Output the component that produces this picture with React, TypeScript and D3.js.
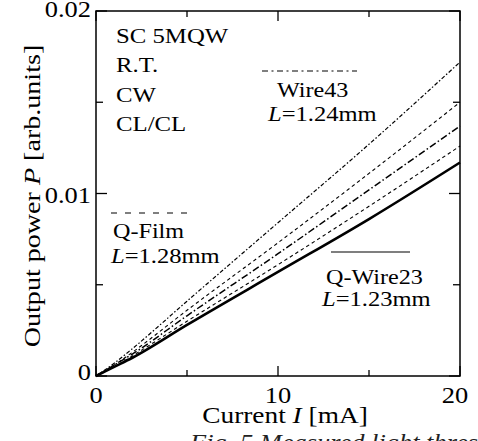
import React, { useEffect, useRef } from "react";
import * as d3 from "d3";

// current (mA) sample points
const currents = [0, 1, 2, 5, 10, 15, 20];

// output power for each curve
const wire43Fine = [0, 0.0007, 0.0015, 0.0041, 0.0084, 0.0127, 0.0172];
const filmUpper = [0, 0.0006, 0.0013, 0.0036, 0.0073, 0.0111, 0.015];
const wire43Long = [0, 0.0006, 0.0012, 0.0033, 0.0067, 0.0102, 0.0137];
const filmLower = [0, 0.0005, 0.0011, 0.003, 0.0061, 0.0093, 0.0126];
const qWire23 = [0, 0.0005, 0.001, 0.0028, 0.0057, 0.0086, 0.0117];

const xMajor = [0, 10, 20];
const xMinor = [5, 15];
const yMajor = [0, 0.01, 0.02];
const yMinor = [0.005, 0.015];

const notes = ["SC 5MQW", "R.T.", "CW", "CL/CL"];

const FONT = "'Liberation Serif', 'Times New Roman', serif";

function App() {
  const svgRef = useRef<SVGSVGElement>(null);
  const width = 478,
    height = 441;
  const left = 96,
    right = 460,
    top = 11,
    bottom = 376;

  useEffect(() => {
    const svg = d3.select(svgRef.current);
    svg.selectAll("*").remove();

    const x = d3.scaleLinear().domain([0, 20]).range([left, right]);
    const y = d3.scaleLinear().domain([0, 0.02]).range([bottom, top]);

    const g = svg.append("g").attr("font-family", FONT).attr("fill", "#000");

    // the original font is wider than Times, so stretch text horizontally
    const txt = (tx: number, ty: number, size: number, sx: number, anchor = "start", rot = 0) =>
      g
        .append("text")
        .attr("transform", `translate(${tx},${ty}) rotate(${rot}) scale(${sx},1)`)
        .attr("font-size", size)
        .attr("text-anchor", anchor);

    // curves
    const line = d3
      .line<number>()
      .x((d, i) => x(currents[i]))
      .y((d) => y(d))
      .curve(d3.curveMonotoneX);

    const series = [
      { values: wire43Fine, dash: "4 2 1.5 2", w: 1.2 },
      { values: filmUpper, dash: "3.5 3", w: 1.1 },
      { values: wire43Long, dash: "7 2.5 1.5 2.5", w: 1.5 },
      { values: filmLower, dash: "3.5 3", w: 1.1 },
      { values: qWire23, dash: null, w: 2.6 },
    ];
    series.forEach((s) => {
      g.append("path")
        .attr("d", line(s.values))
        .attr("fill", "none")
        .attr("stroke", "#000")
        .attr("stroke-width", s.w)
        .attr("stroke-dasharray", s.dash);
    });

    // frame
    g.append("rect")
      .attr("x", left)
      .attr("y", top)
      .attr("width", right - left)
      .attr("height", bottom - top)
      .attr("fill", "none")
      .attr("stroke", "#000")
      .attr("stroke-width", 1.5);

    // inward ticks on all four sides
    const tick = (x1: number, y1: number, x2: number, y2: number) =>
      g
        .append("line")
        .attr("x1", x1)
        .attr("y1", y1)
        .attr("x2", x2)
        .attr("y2", y2)
        .attr("stroke", "#000")
        .attr("stroke-width", 1.3);
    xMajor.forEach((v) => {
      tick(x(v), bottom, x(v), bottom - 10);
      tick(x(v), top, x(v), top + 10);
    });
    xMinor.forEach((v) => {
      tick(x(v), bottom, x(v), bottom - 6);
      tick(x(v), top, x(v), top + 6);
    });
    yMajor.forEach((v) => {
      tick(left, y(v), left + 11, y(v));
      tick(right, y(v), right - 11, y(v));
    });
    yMinor.forEach((v) => {
      tick(left, y(v), left + 7, y(v));
      tick(right, y(v), right - 7, y(v));
    });

    // tick labels
    xMajor.forEach((v) => {
      txt(Math.min(x(v), 455), 403, 23, 1.15, "middle").text(String(v));
    });
    const yShift = [4, 9, 6];
    yMajor.forEach((v, i) => {
      txt(91, y(v) + yShift[i], 23, 1.15, "end").text(v === 0 ? "0" : v.toFixed(2));
    });

    // axis titles
    const xt = txt(285, 423, 24, 1.14, "middle");
    xt.append("tspan").text("Current ");
    xt.append("tspan").attr("font-style", "italic").text("I");
    xt.append("tspan").text(" [mA]");

    const yt = txt(40, 196, 24, 1.17, "middle", -90);
    yt.append("tspan").text("Output power ");
    yt.append("tspan").attr("font-style", "italic").text("P");
    yt.append("tspan").text(" [arb.units]");

    // condition notes
    notes.forEach((t, i) => {
      txt(116, 43 + i * 29.3, 21, 1.18).text(t);
    });

    // legends
    const legend = (
      x1: number,
      x2: number,
      ly: number,
      dash: string | null,
      name: string,
      nx: number,
      ny: number,
      len: string,
      lx: number,
      lyy: number
    ) => {
      g.append("line")
        .attr("x1", x1)
        .attr("x2", x2)
        .attr("y1", ly)
        .attr("y2", ly)
        .attr("stroke", "#000")
        .attr("stroke-width", 1.1)
        .attr("stroke-dasharray", dash);
      txt(nx, ny, 21, 1.15).text(name);
      const lt = txt(lx, lyy, 21, 1.17);
      lt.append("tspan").attr("font-style", "italic").text("L");
      lt.append("tspan").text("=" + len);
    };
    legend(262, 357, 71, "6 3.5 2 3.5", "Wire43", 277, 97, "1.24mm", 268, 121);
    legend(111, 188, 213, "6 8", "Q-Film", 113, 238, "1.28mm", 111, 263);
    legend(331, 410, 252, null, "Q-Wire23", 326, 284, "1.23mm", 322, 306);

    // caption, cut off by the bottom edge
    txt(190, 450, 23, 1.15)
      .attr("font-style", "italic")
      .attr("fill", "#222")
      .text("Fig. 5 Measured light threshold");
  }, []);

  return (
    <svg
      ref={svgRef}
      width={width}
      height={height}
      style={{ position: "absolute", left: 0, top: 0, background: "#fff" }}
    />
  );
}

export default App;
